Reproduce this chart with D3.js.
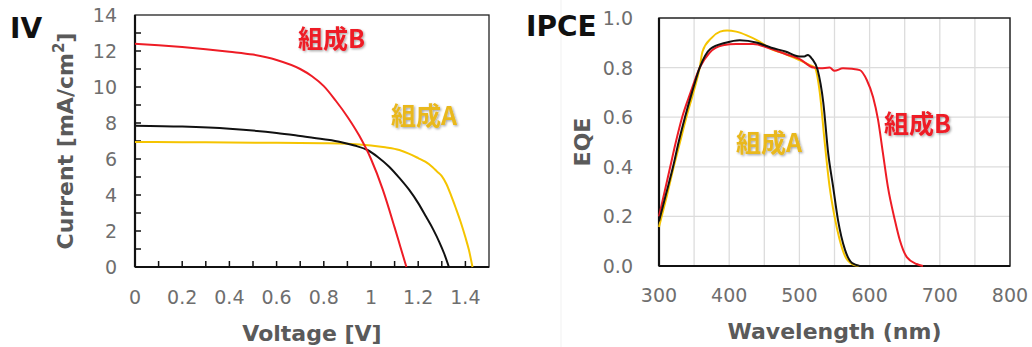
<!DOCTYPE html>
<html><head><meta charset="utf-8">
<script src="https://cdn.jsdelivr.net/npm/d3@7"></script>
<style>
html,body{margin:0;padding:0;background:#fff;}
svg{display:block;}
</style></head>
<body>
<svg id="c" width="1032" height="347"></svg>
<script>
// ---- IV data ----
const ivXTicks = [0, 0.2, 0.4, 0.6, 0.8, 1, 1.2, 1.4];
const ivYTicks = [0, 2, 4, 6, 8, 10, 12, 14];
const ivB_V = [0, 0.1, 0.2, 0.3, 0.4, 0.5, 0.6, 0.7, 0.75, 0.8, 0.85, 0.9, 0.95, 1.0, 1.05, 1.1, 1.125, 1.15];
const ivB_J = [12.4, 12.32, 12.22, 12.1, 11.96, 11.8, 11.5, 11.0, 10.6, 10.05, 9.25, 8.35, 7.3, 6.0, 4.3, 2.2, 1.1, 0];
const ivK_V = [0, 0.2, 0.4, 0.6, 0.7, 0.8, 0.87, 0.93, 0.985, 1.03, 1.077, 1.12, 1.162, 1.2, 1.233, 1.265, 1.289, 1.31, 1.33];
const ivK_J = [7.85, 7.8, 7.68, 7.45, 7.28, 7.1, 6.95, 6.75, 6.5, 6.1, 5.57, 4.95, 4.28, 3.55, 2.8, 2.05, 1.4, 0.75, 0];
const ivA_V = [0, 0.2, 0.4, 0.6, 0.8, 0.9, 1.0, 1.06, 1.12, 1.16, 1.2, 1.23, 1.26, 1.28, 1.3, 1.32, 1.34, 1.36, 1.38, 1.4, 1.415, 1.43];
const ivA_J = [6.95, 6.93, 6.92, 6.9, 6.88, 6.85, 6.75, 6.65, 6.5, 6.3, 6.05, 5.85, 5.56, 5.3, 5.05, 4.6, 3.95, 3.25, 2.5, 1.65, 0.94, 0];

// ---- IPCE data ----
const ipXTicks = [300, 400, 500, 600, 700, 800];
const ipYTicks = [0, 0.2, 0.4, 0.6, 0.8, 1.0];
const ipB_L = [300, 308, 316, 324, 333, 345, 358, 372, 391, 410, 434, 460, 480, 500, 520, 530, 543, 550, 562, 575, 586, 596, 605, 612, 619, 626, 636, 643, 653, 667, 676];
const ipB_E = [0.2, 0.3, 0.4, 0.5, 0.6, 0.7, 0.8, 0.86, 0.89, 0.895, 0.895, 0.875, 0.855, 0.835, 0.8, 0.797, 0.8, 0.787, 0.797, 0.795, 0.79, 0.75, 0.68, 0.59, 0.455, 0.32, 0.185, 0.105, 0.036, 0.008, 0];
const ipK_L = [300, 310, 320, 328, 337, 347, 358, 373, 395, 415, 440, 460, 480, 500, 507, 512, 518, 526, 534, 541, 548, 555, 565, 575, 586];
const ipK_E = [0.18, 0.29, 0.4, 0.5, 0.6, 0.7, 0.8, 0.875, 0.9, 0.91, 0.9, 0.88, 0.865, 0.845, 0.845, 0.851, 0.835, 0.79, 0.66, 0.455, 0.32, 0.185, 0.065, 0.012, 0];
const ipA_L = [300, 311, 321, 330, 339, 349, 358, 362, 375, 387, 397, 410, 425, 440, 460, 480, 500, 515, 522, 529, 536, 543, 550, 557, 565, 575, 585];
const ipA_E = [0.157, 0.28, 0.4, 0.5, 0.6, 0.7, 0.8, 0.865, 0.92, 0.945, 0.95, 0.945, 0.93, 0.91, 0.875, 0.855, 0.83, 0.81, 0.8, 0.7, 0.5, 0.32, 0.2, 0.11, 0.04, 0.008, 0];

const RED = "#ee1c25", GOLD = "#f5c400", GOLDTXT = "#e9b81e", BLK = "#111111";
const TICKCOL = "#6e6e6e", TITLECOL = "#5a5a5a";
const FONT = "'DejaVu Sans', Verdana, sans-serif";
const CJK = "'Noto Sans CJK JP', 'Noto Sans CJK SC', sans-serif";

const svg = d3.select("#c");
const defs = svg.append("defs");
const f = defs.append("filter").attr("id","sh").attr("x","-10%").attr("y","-10%").attr("width","130%").attr("height","140%");
f.append("feDropShadow").attr("dx",1.2).attr("dy",1.2).attr("stdDeviation",0.8).attr("flood-color","#000").attr("flood-opacity",0.35);

// faint divider
svg.append("line").attr("x1",561).attr("x2",561).attr("y1",0).attr("y2",347).attr("stroke","#f1f1f1").attr("stroke-width",1);

function zip(a,b){ return a.map((v,i)=>[v,b[i]]); }

// ================= IV =================
{
  const L=135, R=489, T=15, B=267;
  const x = d3.scaleLinear().domain([0,1.5]).range([L,R]);
  const y = d3.scaleLinear().domain([0,14]).range([B,T]);
  const g = svg.append("g");
  g.append("rect").attr("x",L).attr("y",T).attr("width",R-L).attr("height",B-T).attr("fill","none").attr("stroke","#222").attr("stroke-width",1.3);
  const xt = d3.range(1,15).map(i=>i/10);
  g.selectAll(".xt").data(xt).join("line").attr("x1",d=>x(d)).attr("x2",d=>x(d)).attr("y1",B).attr("y2",B-6).attr("stroke","#111").attr("stroke-width",1.5);
  const yt = d3.range(1,14);
  g.selectAll(".yt").data(yt).join("line").attr("x1",L).attr("x2",L+6).attr("y1",d=>y(d)).attr("y2",d=>y(d)).attr("stroke","#111").attr("stroke-width",1.5);
  g.append("line").attr("x1",L).attr("x2",R).attr("y1",B).attr("y2",B).attr("stroke","#111").attr("stroke-width",2.2);
  g.append("line").attr("x1",L).attr("x2",L).attr("y1",T).attr("y2",B).attr("stroke","#111").attr("stroke-width",2.2);
  g.selectAll(".xl").data(ivXTicks).join("text").attr("x",d=>x(d)).attr("y",304).attr("text-anchor","middle")
    .attr("font-family",FONT).attr("font-size",19).attr("fill",TICKCOL).text(d=>d3.format("")(d));
  g.selectAll(".yl").data(ivYTicks).join("text").attr("x",117).attr("y",d=>y(d)+7).attr("text-anchor","end")
    .attr("font-family",FONT).attr("font-size",19).attr("fill",TICKCOL).text(d=>d);
  g.append("text").attr("x",(L+R)/2).attr("y",341).attr("text-anchor","middle").attr("font-family",FONT).attr("font-weight","bold")
    .attr("font-size",22).attr("fill",TITLECOL).text("Voltage [V]");
  const yt2 = g.append("text").attr("transform",`translate(73,${(T+B)/2}) rotate(-90)`).attr("text-anchor","middle").attr("font-family",FONT)
    .attr("font-weight","bold").attr("font-size",22).attr("fill",TITLECOL);
  yt2.append("tspan").text("Current [mA/cm");
  yt2.append("tspan").attr("baseline-shift","super").attr("font-size",15).text("2");
  yt2.append("tspan").text("]");
  g.append("text").attr("x",10).attr("y",38).attr("font-family",FONT).attr("font-weight","bold").attr("font-size",28).attr("fill","#111").text("IV");
  const line = d3.line().x(d=>x(d[0])).y(d=>y(d[1])).curve(d3.curveMonotoneX);
  g.append("path").attr("d",line(zip(ivA_V,ivA_J))).attr("fill","none").attr("stroke",GOLD).attr("stroke-width",2);
  g.append("path").attr("d",line(zip(ivK_V,ivK_J))).attr("fill","none").attr("stroke",BLK).attr("stroke-width",2);
  g.append("path").attr("d",line(zip(ivB_V,ivB_J))).attr("fill","none").attr("stroke",RED).attr("stroke-width",2);
  g.append("text").attr("x",298).attr("y",48).attr("font-family",CJK).attr("font-weight","bold").attr("font-size",25).attr("fill",RED).attr("filter","url(#sh)").text("組成B");
  g.append("text").attr("x",391).attr("y",125).attr("font-family",CJK).attr("font-weight","bold").attr("font-size",25).attr("fill",GOLDTXT).attr("filter","url(#sh)").text("組成A");
}

// ================= IPCE =================
{
  const L=659, R=1010, T=18, B=266;
  const x = d3.scaleLinear().domain([300,800]).range([L,R]);
  const y = d3.scaleLinear().domain([0,1]).range([B,T]);
  const g = svg.append("g");
  const gx = d3.range(350,800,50);
  g.selectAll(".gx").data(gx).join("line").attr("x1",d=>x(d)).attr("x2",d=>x(d)).attr("y1",T).attr("y2",B).attr("stroke","#dcdcdc").attr("stroke-width",1.3);
  const gy = [0.2,0.4,0.6,0.8];
  g.selectAll(".gy").data(gy).join("line").attr("x1",L).attr("x2",R).attr("y1",d=>y(d)).attr("y2",d=>y(d)).attr("stroke","#dcdcdc").attr("stroke-width",1.3);
  g.append("rect").attr("x",L).attr("y",T).attr("width",R-L).attr("height",B-T).attr("fill","none").attr("stroke","#222").attr("stroke-width",1.5);
  g.append("line").attr("x1",L).attr("x2",R).attr("y1",B).attr("y2",B).attr("stroke","#111").attr("stroke-width",2.2);
  g.append("line").attr("x1",L).attr("x2",L).attr("y1",T).attr("y2",B).attr("stroke","#111").attr("stroke-width",2.2);
  g.selectAll(".xl").data(ipXTicks).join("text").attr("x",d=>x(d)).attr("y",302).attr("text-anchor","middle")
    .attr("font-family",FONT).attr("font-size",19).attr("fill",TICKCOL).text(d=>d);
  g.selectAll(".yl").data(ipYTicks).join("text").attr("x",633).attr("y",d=>y(d)+7).attr("text-anchor","end")
    .attr("font-family",FONT).attr("font-size",19).attr("fill",TICKCOL).text(d=>d3.format(".1f")(d));
  g.append("text").attr("x",(L+R)/2).attr("y",339).attr("text-anchor","middle").attr("font-family",FONT).attr("font-weight","bold")
    .attr("font-size",22).attr("fill",TITLECOL).text("Wavelength (nm)");
  g.append("text").attr("transform",`translate(590,${(T+B)/2}) rotate(-90)`).attr("text-anchor","middle").attr("font-family",FONT)
    .attr("font-weight","bold").attr("font-size",22).attr("fill",TITLECOL).text("EQE");
  g.append("text").attr("x",526).attr("y",36).attr("font-family",FONT).attr("font-weight","bold").attr("font-size",28).attr("fill","#111").text("IPCE");
  const line = d3.line().x(d=>x(d[0])).y(d=>y(d[1])).curve(d3.curveMonotoneX);
  g.append("path").attr("d",line(zip(ipA_L,ipA_E))).attr("fill","none").attr("stroke",GOLD).attr("stroke-width",2);
  g.append("path").attr("d",line(zip(ipB_L,ipB_E))).attr("fill","none").attr("stroke",RED).attr("stroke-width",2);
  g.append("path").attr("d",line(zip(ipK_L,ipK_E))).attr("fill","none").attr("stroke",BLK).attr("stroke-width",2);
  g.append("text").attr("x",736).attr("y",152).attr("font-family",CJK).attr("font-weight","bold").attr("font-size",25).attr("fill",GOLDTXT).attr("filter","url(#sh)").text("組成A");
  g.append("text").attr("x",884).attr("y",133).attr("font-family",CJK).attr("font-weight","bold").attr("font-size",25).attr("fill",RED).attr("filter","url(#sh)").text("組成B");
}
</script>
</body></html>
